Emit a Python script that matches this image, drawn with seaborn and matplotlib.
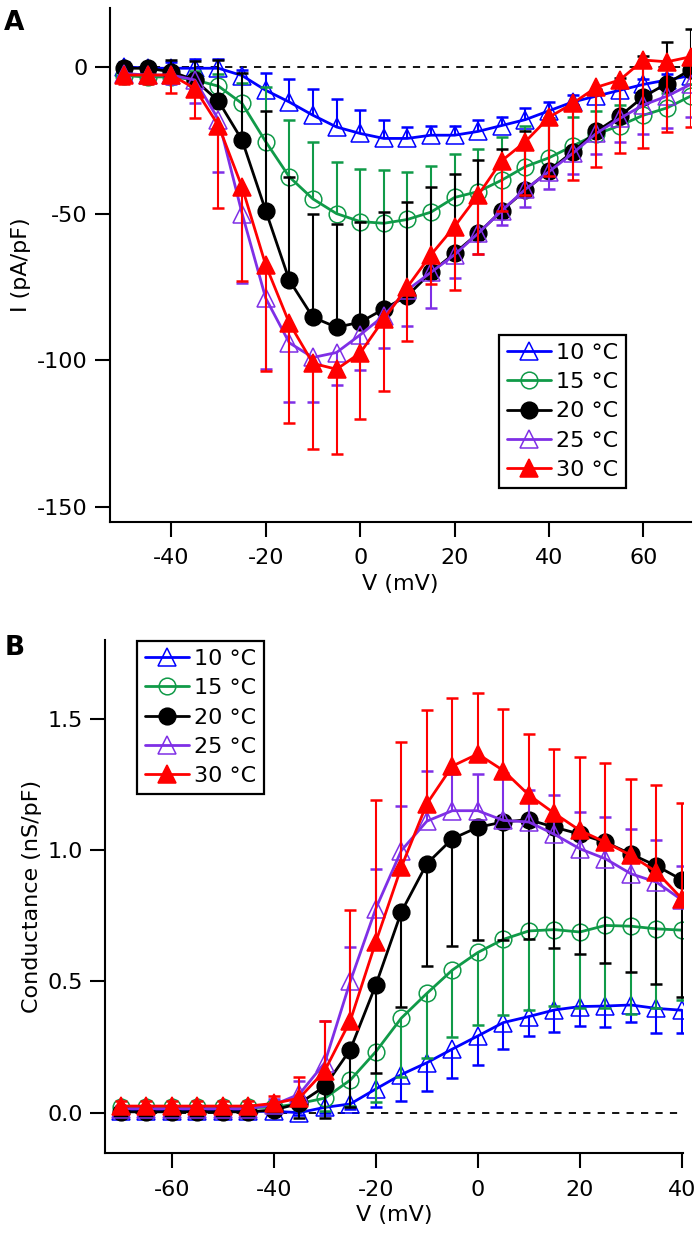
import numpy as np
import pandas as pd
import matplotlib
matplotlib.use("Agg")
import matplotlib.pyplot as plt
import seaborn as sns

# Panel A: I-V curves (pA/pF), mean and one-sided error
v_a = list(range(-50, 75, 5))
i_10 = [0, -0.5, -0.5, -0.5, -0.5, -3, -8, -12, -16.5, -20.5, -22.7, -24.4, -24.4,
        -23.3, -23.3, -22, -20, -18, -15, -12, -10, -8, -6, -4.5, -3]
i_15 = [-3, -3.5, -3.4, -4.5, -6.6, -12.5, -25.5, -37.5, -45, -50, -52.7, -53.3, -52,
        -49.5, -44.5, -42.5, -38.6, -34, -31, -27, -23, -20, -16.5, -14, -10]
i_20 = [-0.5, -0.5, -1.7, -4.5, -11.7, -25, -49, -72.7, -85.3, -88.7, -87, -82.5, -78,
        -70, -63.5, -56.7, -49, -42, -35.4, -29, -22, -16.8, -10.2, -5.7, -1]
i_25 = [-2.3, -2.8, -2.8, -4.5, -18, -50, -78.8, -94, -99, -97.3, -91.3, -84.8, -76,
        -70, -64, -56.7, -49, -41.7, -35.7, -29.5, -22.7, -17.6, -13, -10, -6]
i_30 = [-2.8, -2.8, -2.8, -7.4, -20, -41, -67.5, -87.3, -101, -103, -97.5, -86, -75,
        -64, -54.4, -43.7, -32, -25.5, -17.2, -12.5, -7, -4.5, 2.3, 1.7, 3.4]

e_10 = [1.5, 1.5, 2, 3, 3, 2, 6, 8, 9, 9.5, 8, 6.4, 4, 3, 3.3, 4, 3, 4, 3, 2.5, 2.5, 2, 2, 2, 2]
e_15 = [2, 2, 2, 3, 4, 7, 18.5, 19.5, 19.5, 17.6, 18, 18, 16, 15.7, 14.8, 14.6, 14.6,
        14, 12, 10, 8, 7, 6, 5, 4]
e_20 = [1, 1.5, 4, 6.5, 14, 23, 34, 35, 35, 35, 34, 33, 32, 29, 27, 25, 21, 20, 18, 16,
        14, 13, 14, 14, 14]
e_25 = [2, 2, 3, 8, 18, 23.5, 24, 20, 15, 11, 12, 11, 12.4, 12, 8, 7, 5, 6, 6, 7, 7, 8,
        10, 11, 11]
e_30 = [3, 3, 6, 10, 28, 32, 36, 34, 29, 29, 22.5, 24.5, 18.5, 10, 21.6, 20, 17, 18, 20,
        26, 27, 25, 30, 24, 24]

# Panel B: conductance (nS/pF)
v_b = list(range(-70, 45, 5))
g_10 = [0.005, 0.005, 0.005, 0.005, 0.005, 0.005, 0.005, 0.0, 0.02, 0.033, 0.09, 0.145,
        0.19, 0.242, 0.292, 0.343, 0.366, 0.391, 0.404, 0.406, 0.41, 0.397, 0.39]
g_15 = [0.02, 0.02, 0.02, 0.02, 0.02, 0.02, 0.02, 0.035, 0.055, 0.124, 0.232, 0.36,
        0.454, 0.543, 0.61, 0.66, 0.692, 0.697, 0.688, 0.713, 0.71, 0.7, 0.695]
g_20 = [0.003, 0.003, 0.003, 0.003, 0.003, 0.003, 0.01, 0.035, 0.10, 0.24, 0.486, 0.764,
        0.948, 1.043, 1.087, 1.107, 1.116, 1.087, 1.061, 1.03, 0.985, 0.94, 0.887]
g_25 = [0.015, 0.015, 0.015, 0.015, 0.015, 0.015, 0.03, 0.07, 0.19, 0.5, 0.777, 0.998,
        1.11, 1.15, 1.15, 1.113, 1.107, 1.06, 1.005, 0.967, 0.91, 0.878, 0.81]
g_30 = [0.025, 0.025, 0.025, 0.025, 0.025, 0.025, 0.035, 0.055, 0.16, 0.35, 0.65, 0.935,
        1.176, 1.32, 1.366, 1.303, 1.21, 1.14, 1.075, 1.03, 0.98, 0.917, 0.815]

ge_10 = [0.005] * 7 + [0.01, 0.02, 0.02, 0.07, 0.1, 0.108, 0.11, 0.11, 0.1, 0.076,
                       0.083, 0.074, 0.08, 0.064, 0.093, 0.086]
ge_15 = [0.005] * 6 + [0.01, 0.02, 0.05, 0.1, 0.19, 0.225, 0.247, 0.254, 0.275, 0.288,
                       0.3, 0.29, 0.288, 0.313, 0.333, 0.3, 0.265]
ge_20 = [0.005] * 6 + [0.02, 0.056, 0.12, 0.22, 0.334, 0.36, 0.39, 0.41, 0.43, 0.45,
                       0.456, 0.46, 0.455, 0.46, 0.45, 0.45, 0.446]
ge_25 = [0.01] * 6 + [0.02, 0.05, 0.16, 0.13, 0.15, 0.17, 0.19, 0.14, 0.14, 0.18, 0.12,
                      0.15, 0.14, 0.16, 0.17, 0.16, 0.13]
ge_30 = [0.02] * 6 + [0.03, 0.08, 0.19, 0.42, 0.54, 0.478, 0.358, 0.258, 0.234, 0.234,
                      0.233, 0.246, 0.279, 0.3, 0.29, 0.329, 0.364]

labels = ["10 \u00b0C", "15 \u00b0C", "20 \u00b0C", "25 \u00b0C", "30 \u00b0C"]
colors = ["#0000FF", "#109A48", "#000000", "#7F2FE6", "#FF0000"]
markers = ["^", "o", "o", "^", "^"]
hollow = [True, True, False, True, False]
msizes = [13, 12, 12, 13, 13]

sns.set_style("ticks")
plt.rcParams["font.family"] = ["DejaVu Sans"]
plt.rcParams["axes.unicode_minus"] = False
plt.rcParams["axes.linewidth"] = 1.5
for key in ["text.color", "axes.labelcolor", "xtick.color", "ytick.color", "axes.edgecolor"]:
    plt.rcParams[key] = "black"

fig = plt.figure(figsize=(7, 12.38), dpi=100)
ax_a = fig.add_axes([0.157, 0.5784, 0.8296, 0.4151])
ax_b = fig.add_axes([0.1506, 0.0684, 0.8257, 0.4146])


def draw_panel(ax, v, ys, errs, dirs):
    for k in range(5):
        y = np.array(ys[k])
        e = np.array(errs[k]) * dirs[k]
        ax.vlines(v, y, y + e, color=colors[k], lw=1.5, zorder=2 + k)
        ax.plot(v, y + e, ls="none", marker="_", ms=9, mew=1.8, color=colors[k], zorder=2 + k)
        df = pd.DataFrame({"V": v, "Y": y})
        sns.lineplot(data=df, x="V", y="Y", ax=ax, color=colors[k], lw=2.0,
                     marker=markers[k], ms=msizes[k],
                     markerfacecolor="none" if hollow[k] else colors[k],
                     markeredgecolor=colors[k], markeredgewidth=1.1,
                     label=labels[k], sort=False, errorbar=None, zorder=2.5 + k)


def style_legend(ax, anchor):
    leg = ax.legend(loc="upper left", bbox_to_anchor=anchor, fontsize=16,
                    frameon=True, fancybox=False, edgecolor="black", framealpha=1,
                    handlelength=2.0, handletextpad=0.2, labelspacing=0.42,
                    borderpad=0.35, borderaxespad=0)
    leg.get_frame().set_linewidth(1.6)


# Panel A
draw_panel(ax_a, v_a, [i_10, i_15, i_20, i_25, i_30],
           [e_10, e_15, e_20, e_25, e_30], [1, 1, 1, -1, -1])
ax_a.plot([-50, 70], [0, 0], color="black", ls=(0, (4, 4)), lw=1.3, zorder=1)
ax_a.set_xlim(-53, 70)
ax_a.set_ylim(-155, 20)
ax_a.set_xticks([-40, -20, 0, 20, 40, 60])
ax_a.set_yticks([0, -50, -100, -150])
ax_a.set_xlabel("V (mV)", fontsize=16)
ax_a.set_ylabel("I (pA/pF)", fontsize=16)
style_legend(ax_a, (0.67, 0.364))

# Panel B
draw_panel(ax_b, v_b, [g_10, g_15, g_20, g_25, g_30],
           [ge_10, ge_15, ge_20, ge_25, ge_30], [-1, -1, -1, 1, 1])
ax_b.plot([-70, 40], [0, 0], color="black", ls=(0, (4, 4)), lw=1.3, zorder=1)
ax_b.set_xlim(-73, 40.3)
ax_b.set_ylim(-0.155, 1.8)
ax_b.set_xticks([-60, -40, -20, 0, 20, 40])
ax_b.set_yticks([0.0, 0.5, 1.0, 1.5])
ax_b.set_yticklabels(["0.0", "0.5", "1.0", "1.5"])
ax_b.set_xlabel("V (mV)", fontsize=16)
ax_b.set_ylabel("Conductance (nS/pF)", fontsize=16)
style_legend(ax_b, (0.0547, 0.998))

for ax in (ax_a, ax_b):
    sns.despine(ax=ax)
    ax.tick_params(axis="both", labelsize=16, length=11, width=1.5, direction="out")
    ax.tick_params(axis="x", pad=8)
    ax.tick_params(axis="y", pad=5)

fig.text(0.006, 0.992, "A", fontsize=19, fontweight="bold", va="top")
fig.text(0.006, 0.487, "B", fontsize=19, fontweight="bold", va="top")

fig.savefig("out.png", dpi=100)
